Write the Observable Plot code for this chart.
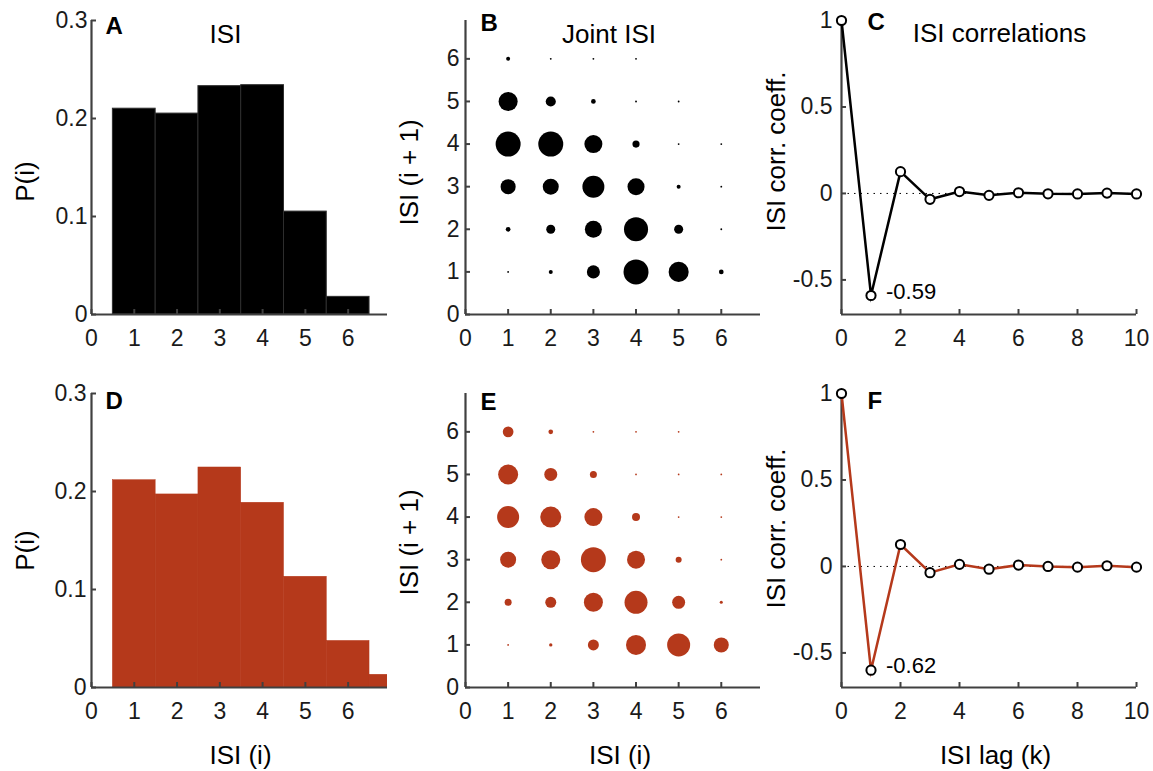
<!DOCTYPE html>
<html><head><meta charset="utf-8">
<script src="https://cdn.jsdelivr.net/npm/d3@7"></script>
<script src="https://cdn.jsdelivr.net/npm/@observablehq/plot@0.6"></script>
<style>
body{margin:0;background:#fff;}
#fig{position:relative;width:1153px;height:771px;overflow:hidden;font-family:"Liberation Sans",Arial,Helvetica,sans-serif;}
.panel{position:absolute;}
.panel svg{overflow:visible;max-width:none;}
</style>
</head><body><div id="fig"></div>
<script>
// ---------- data ----------
const isiBins = [1, 2, 3, 4, 5, 6];
const pModel = [0.210, 0.205, 0.233, 0.234, 0.105, 0.018];
const isiBinsData = [1, 2, 3, 4, 5, 6, 7];
const pData = [0.2115, 0.197, 0.2245, 0.1885, 0.113, 0.0475, 0.013];

const isiTicks = [0, 1, 2, 3, 4, 5, 6];
const pTicks = [0, 0.1, 0.2, 0.3];

const jointI = [1, 2, 3, 4, 5, 6];      // ISI (i)
const jointNext = [1, 2, 3, 4, 5, 6];   // ISI (i + 1)
// rows: ISI(i+1) = 1..6 ; columns: ISI(i) = 1..6
const jointModel = [
  [0.0006, 0.0028, 0.030, 0.110, 0.071, 0.0039],
  [0.0039, 0.0143, 0.051, 0.102, 0.0143, 0.0006],
  [0.040, 0.045, 0.085, 0.051, 0.0028, 0.0006],
  [0.110, 0.110, 0.057, 0.0090, 0.0006, 0.0006],
  [0.064, 0.018, 0.0039, 0.0006, 0.0006, 0],
  [0.0028, 0.0006, 0.0006, 0.0006, 0, 0]
];
const jointData = [
  [0.0005, 0.0018, 0.0195, 0.0645, 0.0853, 0.0363],
  [0.0079, 0.0195, 0.0582, 0.0853, 0.0272, 0.0015],
  [0.0413, 0.0582, 0.1007, 0.0522, 0.0058, 0.0005],
  [0.0780, 0.0711, 0.0522, 0.0103, 0.0005, 0.0005],
  [0.0645, 0.0272, 0.0079, 0.0005, 0.0005, 0.0005],
  [0.0184, 0.0035, 0.0005, 0.0005, 0.0005, 0]
];

const lags = [0, 1, 2, 3, 4, 5, 6, 7, 8, 9, 10];
const corrModel = [1, -0.59, 0.126, -0.034, 0.011, -0.011, 0.004, -0.002, -0.003, 0.002, -0.003];
const corrData = [1, -0.60, 0.127, -0.036, 0.012, -0.016, 0.008, 0, -0.004, 0.004, -0.004];
const lagTicks = [0, 2, 4, 6, 8, 10];
const corrTicks = [-0.5, 0, 0.5, 1];
const minLabelModel = ["-0.59"];
const minLabelData = ["-0.62"];

// ---------- style ----------
const FONT = '"Liberation Sans", Arial, Helvetica, sans-serif';
const AXIS = "#404040";
const INK = "#1a1a1a";
const RED = "#b5391b";
const TICKFS = 23, LABFS = 26;

const fig = document.getElementById("fig");

const COLS = [
  {left: 0, width: 400, mL: 91, mR: 13},
  {left: 400, width: 380, mL: 65, mR: 20},
  {left: 780, width: 373, mL: 61, mR: 17}
];
const ROWS = [
  {top: 0, height: 360, mT: 20, mB: 46},
  {top: 373, height: 398, mT: 20, mB: 84}
];

function place(col, row, opts, marks) {
  const c = COLS[col], r = ROWS[row];
  const svg = Plot.plot({
    width: c.width, height: r.height,
    marginLeft: c.mL, marginRight: c.mR, marginTop: r.mT, marginBottom: r.mB,
    style: {fontFamily: FONT, fontSize: TICKFS + "px", color: INK, background: "transparent", overflow: "visible"},
    ...opts,
    marks
  });
  const div = document.createElement("div");
  div.className = "panel";
  div.style.left = c.left + "px";
  div.style.top = r.top + "px";
  div.style.width = c.width + "px";
  div.style.height = r.height + "px";
  div.appendChild(svg);
  fig.appendChild(div);
}

function frameSize(col, row) {
  const c = COLS[col], r = ROWS[row];
  return [c.width - c.mL - c.mR, r.height - r.mT - r.mB];
}

function axes(col, row, xTicks, yTicks, x0, y0, yPad) {
  const [fw, fh] = frameSize(col, row);
  return [
    Plot.ruleX([x0], {stroke: AXIS, strokeWidth: 2.2}),
    Plot.ruleY([y0], {stroke: AXIS, strokeWidth: 2.2}),
    Plot.tickX(xTicks, {x: d => d, insetTop: fh - 5, stroke: AXIS, strokeWidth: 2}),
    Plot.tickY(yTicks, {y: d => d, insetRight: fw - 5, stroke: AXIS, strokeWidth: 2}),
    Plot.axisX(xTicks, {tickSize: 0, tickPadding: 15, fontSize: TICKFS, tickFormat: d => String(d), label: null, fill: INK}),
    Plot.axisY(yTicks, {tickSize: 0, tickPadding: yPad, fontSize: TICKFS, tickFormat: d => String(d), label: null, fill: INK})
  ];
}

function letter(t, dx, dy) {
  return Plot.text([t], {frameAnchor: "top-left", text: d => d, dx, dy, textAnchor: "start", lineAnchor: "middle", fontWeight: "bold", fontSize: 24, fill: "#000"});
}
function title(t, dx, dy) {
  return Plot.text([t], {frameAnchor: "top", text: d => d, dx, dy, textAnchor: "middle", lineAnchor: "middle", fontSize: LABFS, fill: "#000"});
}
function ylab(t, dx, dy) {
  return Plot.text([t], {frameAnchor: "left", text: d => d, dx, dy, rotate: -90, textAnchor: "middle", lineAnchor: "middle", fontSize: LABFS, fill: "#000"});
}
function xlab(t, dx, dy) {
  return Plot.text([t], {frameAnchor: "bottom", text: d => d, dx, dy, textAnchor: "middle", lineAnchor: "middle", fontSize: LABFS, fill: "#000"});
}

const isiDomain = [0, 6.92];

// ---------- A : ISI histogram (model) ----------
const histModel = isiBins.map((b, k) => ({bin: b, p: pModel[k]}));
place(0, 0, {x: {domain: isiDomain, label: null}, y: {domain: [0, 0.3], label: null}}, [
  Plot.rectY(histModel, {x1: d => d.bin - 0.5, x2: d => d.bin + 0.5, y1: 0, y2: "p", fill: "#000", stroke: "#2e2e2e", strokeWidth: 1}),
  ...axes(0, 0, isiTicks, pTicks, 0, 0, 4),
  letter("A", 14, 5.5),
  title("ISI", -14, 14),
  ylab("P(i)", -66, 14)
]);

// ---------- D : ISI histogram (data) ----------
const histData = isiBinsData.map((b, k) => ({bin: b, p: pData[k]}));
place(0, 1, {x: {domain: isiDomain, label: null}, y: {domain: [0, 0.3], label: null}}, [
  Plot.rectY(histData, {x1: d => d.bin - 0.5, x2: d => d.bin + 0.5, y1: 0, y2: "p", fill: RED, stroke: RED, strokeWidth: 0.5, clip: true}),
  ...axes(0, 1, isiTicks, pTicks, 0, 0, 5),
  letter("D", 14, 8),
  ylab("P(i)", -66, 10),
  xlab("ISI (i)", 1, 68)
]);

// ---------- B / E : joint ISI ----------
function jointRows(m) {
  const out = [];
  jointNext.forEach((n, r) => jointI.forEach((i, c) => out.push({i, n, p: m[r][c]})));
  return out;
}
const jm = jointRows(jointModel), jd = jointRows(jointData);
place(1, 0, {
  x: {domain: isiDomain, label: null}, y: {domain: [0, 6.9], label: null},
  r: {type: "sqrt", domain: [0, d3.max(jm, d => d.p)], range: [0, 12.5]}
}, [
  ...axes(1, 0, isiTicks, isiTicks, 0, 0, 6),
  Plot.dot(jm, {x: "i", y: "n", r: "p", fill: "#000", stroke: null}),
  letter("B", 15, 2.5),
  title("Joint ISI", -4, 14),
  ylab("ISI (i + 1)", -55.5, 5)
]);
place(1, 1, {
  x: {domain: isiDomain, label: null}, y: {domain: [0, 6.9], label: null},
  r: {type: "sqrt", domain: [0, d3.max(jd, d => d.p)], range: [0, 12.5]}
}, [
  ...axes(1, 1, isiTicks, isiTicks, 0, 0, 6.5),
  Plot.dot(jd, {x: "i", y: "n", r: "p", fill: RED, stroke: null}),
  letter("E", 15, 8.5),
  ylab("ISI (i + 1)", -55.5, 2),
  xlab("ISI (i)", 7, 68)
]);

// ---------- C / F : ISI correlations ----------
function corrPanel(row, vals, color, lab, extra) {
  const d = lags.map((k, j) => ({k, v: vals[j]}));
  place(2, row, {x: {domain: [0, 10], label: null}, y: {domain: [-0.7, 1], label: null}}, [
    Plot.ruleY([0], {stroke: "#000", strokeWidth: 1, strokeDasharray: "1.5,5"}),
    ...axes(2, row, lagTicks, corrTicks, 0, -0.7, 9),
    Plot.line(d, {x: "k", y: "v", stroke: color, strokeWidth: 2.5, strokeLinejoin: "miter", strokeMiterlimit: 10}),
    Plot.dot(d, {x: "k", y: "v", r: 4.6, fill: "#fff", stroke: "#000", strokeWidth: 2}),
    Plot.text(lab, {x: () => lags[1], y: () => vals[1], text: t => t, dx: 15, dy: -4, textAnchor: "start", fontSize: 22, fill: "#000"}),
    ...extra
  ]);
}
corrPanel(0, corrModel, "#000", minLabelModel, [
  letter("C", 26, 2),
  title("ISI correlations", 10.5, 13),
  ylab("ISI corr. coeff.", -64.5, -16)
]);
corrPanel(1, corrData, RED, minLabelData, [
  letter("F", 26, 8),
  ylab("ISI corr. coeff.", -64.5, -12),
  xlab("ISI lag (k)", 6.5, 68)
]);
</script>
</body></html>
